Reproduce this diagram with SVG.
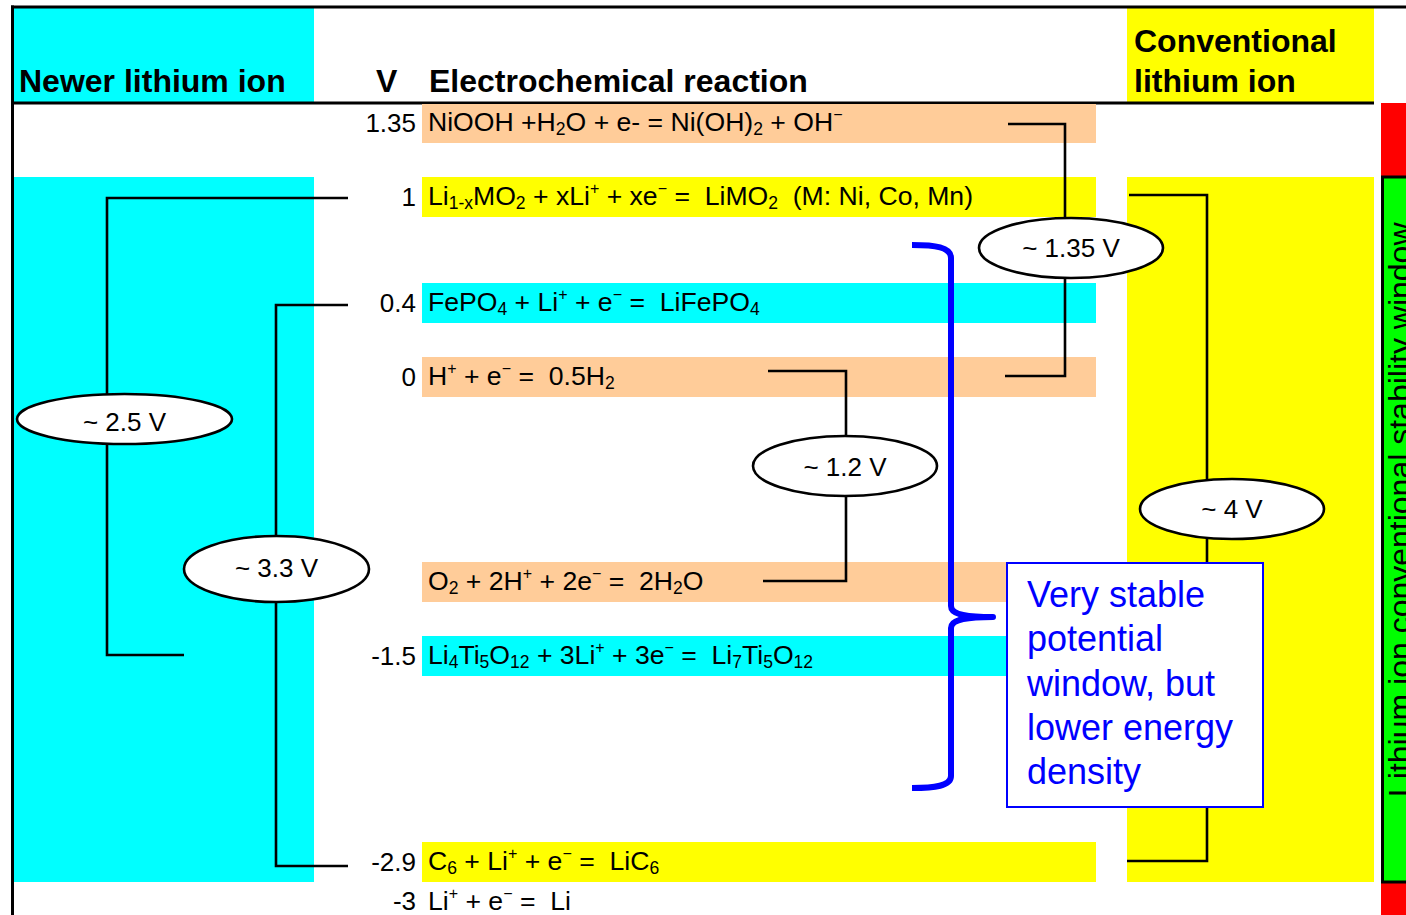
<svg xmlns="http://www.w3.org/2000/svg" width="1406" height="915" viewBox="0 0 1406 915">
<style>
text{font-family:"Liberation Sans",Arial,sans-serif;fill:#000}
.hd{font-size:32px;font-weight:bold}
.eq{font-size:26.6px}
.v{font-size:26px;text-anchor:end}
.el{font-size:26px;text-anchor:middle}
.sb{font-size:17.5px}
.sp{font-size:16px}
.peach{fill:#FFCC99}
.yel{fill:#FFFF00}
.cy{fill:#00FFFF}
.conn{fill:none;stroke:#000;stroke-width:2.6}
.oval{fill:#fff;stroke:#000;stroke-width:2.6}
.note{font-size:36px;fill:#0000FF}
</style>
<rect width="1406" height="915" fill="#fff"/>
<g id="background">
<rect x="13" y="177" width="301" height="705" class="cy"/>
<rect x="1127" y="177" width="247" height="705" class="yel"/>
</g>
<g id="header-newer">
<rect x="13" y="8" width="301" height="94" class="cy"/>
<text x="19" y="92" class="hd">Newer lithium ion</text>
</g>
<g id="header-reaction">
<text x="376" y="92" class="hd">V</text>
<text x="429" y="92" class="hd">Electrochemical reaction</text>
</g>
<g id="header-conventional">
<rect x="1127" y="8" width="247" height="94" class="yel"/>
<text x="1134" y="52" class="hd" font-size="31.5">Conventional</text>
<text x="1134" y="92" class="hd" font-size="31.5">lithium ion</text>
</g>
<g id="stability-bar">
<rect x="1381" y="103" width="25" height="812" fill="#FF0000"/>
<rect x="1382.5" y="177" width="30" height="705" fill="#00FF00" stroke="#000" stroke-width="3"/>
<text transform="translate(1411,797) rotate(-90)" font-size="32" xml:space="preserve">Lithium ion conventional stability window</text>
</g>
<g id="frame" fill="none" stroke="#000" stroke-width="3">
<line x1="12.5" y1="5.5" x2="12.5" y2="915"/>
<line x1="11" y1="7" x2="1406" y2="7"/>
<line x1="11" y1="103" x2="1374" y2="103"/>
</g>
<g id="row-niooh">
<rect x="422" y="104" width="674" height="39" class="peach"/>
<text x="416" y="132" class="v">1.35</text>
<text x="428" y="131" class="eq" xml:space="preserve">NiOOH +H<tspan class="sb" dy="4">2</tspan><tspan dy="-4">O + e- = Ni(OH)</tspan><tspan class="sb" dy="4">2</tspan><tspan dy="-4"> + OH</tspan><tspan class="sp" dy="-11">−</tspan></text>
</g>
<g id="row-limo2">
<rect x="422" y="177" width="674" height="40" class="yel"/>
<text x="416" y="206" class="v">1</text>
<text x="428" y="205" class="eq" xml:space="preserve">Li<tspan class="sb" dy="4">1-x</tspan><tspan dy="-4">MO</tspan><tspan class="sb" dy="4">2</tspan><tspan dy="-4"> + xLi</tspan><tspan class="sp" dy="-11">+</tspan><tspan dy="11"> + xe</tspan><tspan class="sp" dy="-11">−</tspan><tspan dy="11"> =  LiMO</tspan><tspan class="sb" dy="4">2</tspan><tspan dy="-4">  (M: Ni, Co, Mn)</tspan></text>
</g>
<g id="row-lifepo4">
<rect x="422" y="283" width="674" height="40" class="cy"/>
<text x="416" y="312" class="v">0.4</text>
<text x="428" y="311" class="eq" xml:space="preserve">FePO<tspan class="sb" dy="4">4</tspan><tspan dy="-4"> + Li</tspan><tspan class="sp" dy="-11">+</tspan><tspan dy="11"> + e</tspan><tspan class="sp" dy="-11">−</tspan><tspan dy="11"> =  LiFePO</tspan><tspan class="sb" dy="4">4</tspan></text>
</g>
<g id="row-h2">
<rect x="422" y="357" width="674" height="40" class="peach"/>
<text x="416" y="386" class="v">0</text>
<text x="428" y="385" class="eq" xml:space="preserve">H<tspan class="sp" dy="-11">+</tspan><tspan dy="11"> + e</tspan><tspan class="sp" dy="-11">−</tspan><tspan dy="11"> =  0.5H</tspan><tspan class="sb" dy="4">2</tspan></text>
</g>
<g id="row-o2">
<rect x="422" y="562" width="674" height="40" class="peach"/>
<text x="428" y="590" class="eq" xml:space="preserve">O<tspan class="sb" dy="4">2</tspan><tspan dy="-4"> + 2H</tspan><tspan class="sp" dy="-11">+</tspan><tspan dy="11"> + 2e</tspan><tspan class="sp" dy="-11">−</tspan><tspan dy="11"> =  2H</tspan><tspan class="sb" dy="4">2</tspan><tspan dy="-4">O</tspan></text>
</g>
<g id="row-lto">
<rect x="422" y="636" width="674" height="40" class="cy"/>
<text x="416" y="665" class="v">-1.5</text>
<text x="428" y="664" class="eq" xml:space="preserve">Li<tspan class="sb" dy="4">4</tspan><tspan dy="-4">Ti</tspan><tspan class="sb" dy="4">5</tspan><tspan dy="-4">O</tspan><tspan class="sb" dy="4">12</tspan><tspan dy="-4"> + 3Li</tspan><tspan class="sp" dy="-11">+</tspan><tspan dy="11"> + 3e</tspan><tspan class="sp" dy="-11">−</tspan><tspan dy="11"> =  Li</tspan><tspan class="sb" dy="4">7</tspan><tspan dy="-4">Ti</tspan><tspan class="sb" dy="4">5</tspan><tspan dy="-4">O</tspan><tspan class="sb" dy="4">12</tspan></text>
</g>
<g id="row-lic6">
<rect x="422" y="842" width="674" height="40" class="yel"/>
<text x="416" y="871" class="v">-2.9</text>
<text x="428" y="870" class="eq" xml:space="preserve">C<tspan class="sb" dy="4">6</tspan><tspan dy="-4"> + Li</tspan><tspan class="sp" dy="-11">+</tspan><tspan dy="11"> + e</tspan><tspan class="sp" dy="-11">−</tspan><tspan dy="11"> =  LiC</tspan><tspan class="sb" dy="4">6</tspan></text>
</g>
<g id="row-li">
<text x="416" y="910" class="v">-3</text>
<text x="428" y="910" class="eq" xml:space="preserve">Li<tspan class="sp" dy="-11">+</tspan><tspan dy="11"> + e</tspan><tspan class="sp" dy="-11">−</tspan><tspan dy="11"> =  Li</tspan></text>
</g>
<g id="connectors" class="conn">
<polyline points="348,198 107,198 107,655 184,655"/>
<polyline points="348,305 276,305 276,866 348,866"/>
<polyline points="768,371 846,371 846,581 763,581"/>
<polyline points="1008,124 1065,124 1065,376 1005,376"/>
<polyline points="1129,195 1207,195 1207,861 1127,861"/>
</g>
<g id="oval-2-5v">
<ellipse cx="124.5" cy="419" rx="107.5" ry="25" class="oval"/>
<text x="124.5" y="431" class="el">~ 2.5 V</text>
</g>
<g id="oval-3-3v">
<ellipse cx="276.5" cy="569" rx="92.5" ry="33" class="oval"/>
<text x="276.5" y="577" class="el">~ 3.3 V</text>
</g>
<g id="oval-1-2v">
<ellipse cx="845" cy="466" rx="92" ry="30" class="oval"/>
<text x="845" y="476" class="el">~ 1.2 V</text>
</g>
<g id="oval-1-35v">
<ellipse cx="1071" cy="248" rx="92" ry="30" class="oval"/>
<text x="1071" y="257" class="el">~ 1.35 V</text>
</g>
<g id="oval-4v">
<ellipse cx="1232" cy="509" rx="92" ry="30" class="oval"/>
<text x="1232" y="518" class="el">~ 4 V</text>
</g>
<g id="brace">
<path d="M912,245 C935,245 951,247 951,258 L951,606 C951,613 960,617 993,617 C960,617 951,621 951,628 L951,776 C951,786 935,788 912,788" fill="none" stroke="#0000FF" stroke-width="6" stroke-linejoin="round"/>
</g>
<g id="note">
<rect x="1007" y="563" width="256" height="244" fill="#fff" stroke="#0000FF" stroke-width="2"/>
<text x="1027" y="607" class="note">Very stable</text>
<text x="1027" y="651" class="note">potential</text>
<text x="1027" y="696" class="note">window, but</text>
<text x="1027" y="740" class="note">lower energy</text>
<text x="1027" y="784" class="note">density</text>
</g>
</svg>
